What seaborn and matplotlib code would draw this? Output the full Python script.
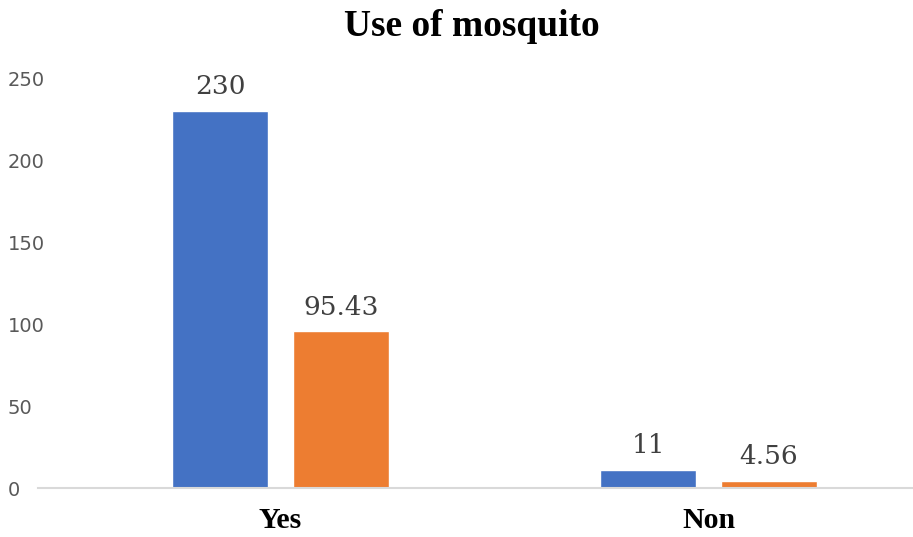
import matplotlib
matplotlib.use("Agg")
import matplotlib.pyplot as plt
import seaborn as sns
import pandas as pd

categories = ["Yes", "Non"]
series_names = ["Count", "Percent"]
count_values = [230, 11]
percent_values = [95.43, 4.56]
value_labels = [["230", "11"], ["95.43", "4.56"]]
yticks = [0, 50, 100, 150, 200, 250]

df = pd.DataFrame({
    "category": categories * 2,
    "series": [series_names[0]] * 2 + [series_names[1]] * 2,
    "value": count_values + percent_values,
})

sns.set_theme(style="white")
plt.rcParams["font.family"] = ["DejaVu Sans"]

fig = plt.figure(figsize=(9.13, 5.37), dpi=100)
ax = fig.add_axes([38 / 913, 49 / 537, (913 - 38) / 913, (488 - 78) / 537])

sns.barplot(data=df, x="category", y="value", hue="series", order=categories,
            hue_order=series_names, palette=["#4472C4", "#ED7D31"],
            width=0.565, gap=0.207, ax=ax, legend=False, saturation=1)

# data labels
for ci, container in enumerate(ax.containers):
    for bi, bar in enumerate(container):
        ax.text(bar.get_x() + bar.get_width() / 2, bar.get_height() + 7,
                value_labels[ci][bi], ha="center", va="bottom",
                fontsize=19, color="#404040", family="DejaVu Serif",
                clip_on=False)

ax.set_xlim((38 - 280.5) / 428, (913 - 280.5) / 428)
ax.set_ylim(0, 250)
ax.set_yticks(yticks)
ax.set_yticklabels([str(t) for t in yticks], color="#595959", fontsize=14)
for lab in ax.get_yticklabels():
    lab.set_horizontalalignment("left")
ax.tick_params(axis="y", length=0, pad=22)
ax.tick_params(axis="x", length=0, pad=13.5)
ax.set_xticks(range(len(categories)))
ax.set_xticklabels(categories, fontsize=21.5, fontweight="bold",
                   family="Liberation Serif", color="black")
ax.set_xlabel("")
ax.set_ylabel("")
for s in ["top", "right", "left"]:
    ax.spines[s].set_visible(False)
ax.spines["bottom"].set_color("#D9D9D9")
ax.spines["bottom"].set_linewidth(1.5)

fig.text(472 / 913, 1 - 26 / 537, "Use of mosquito", ha="center", va="center",
         fontsize=27, fontweight="bold", family="Liberation Serif", color="black")

fig.savefig("out.png", dpi=100)
